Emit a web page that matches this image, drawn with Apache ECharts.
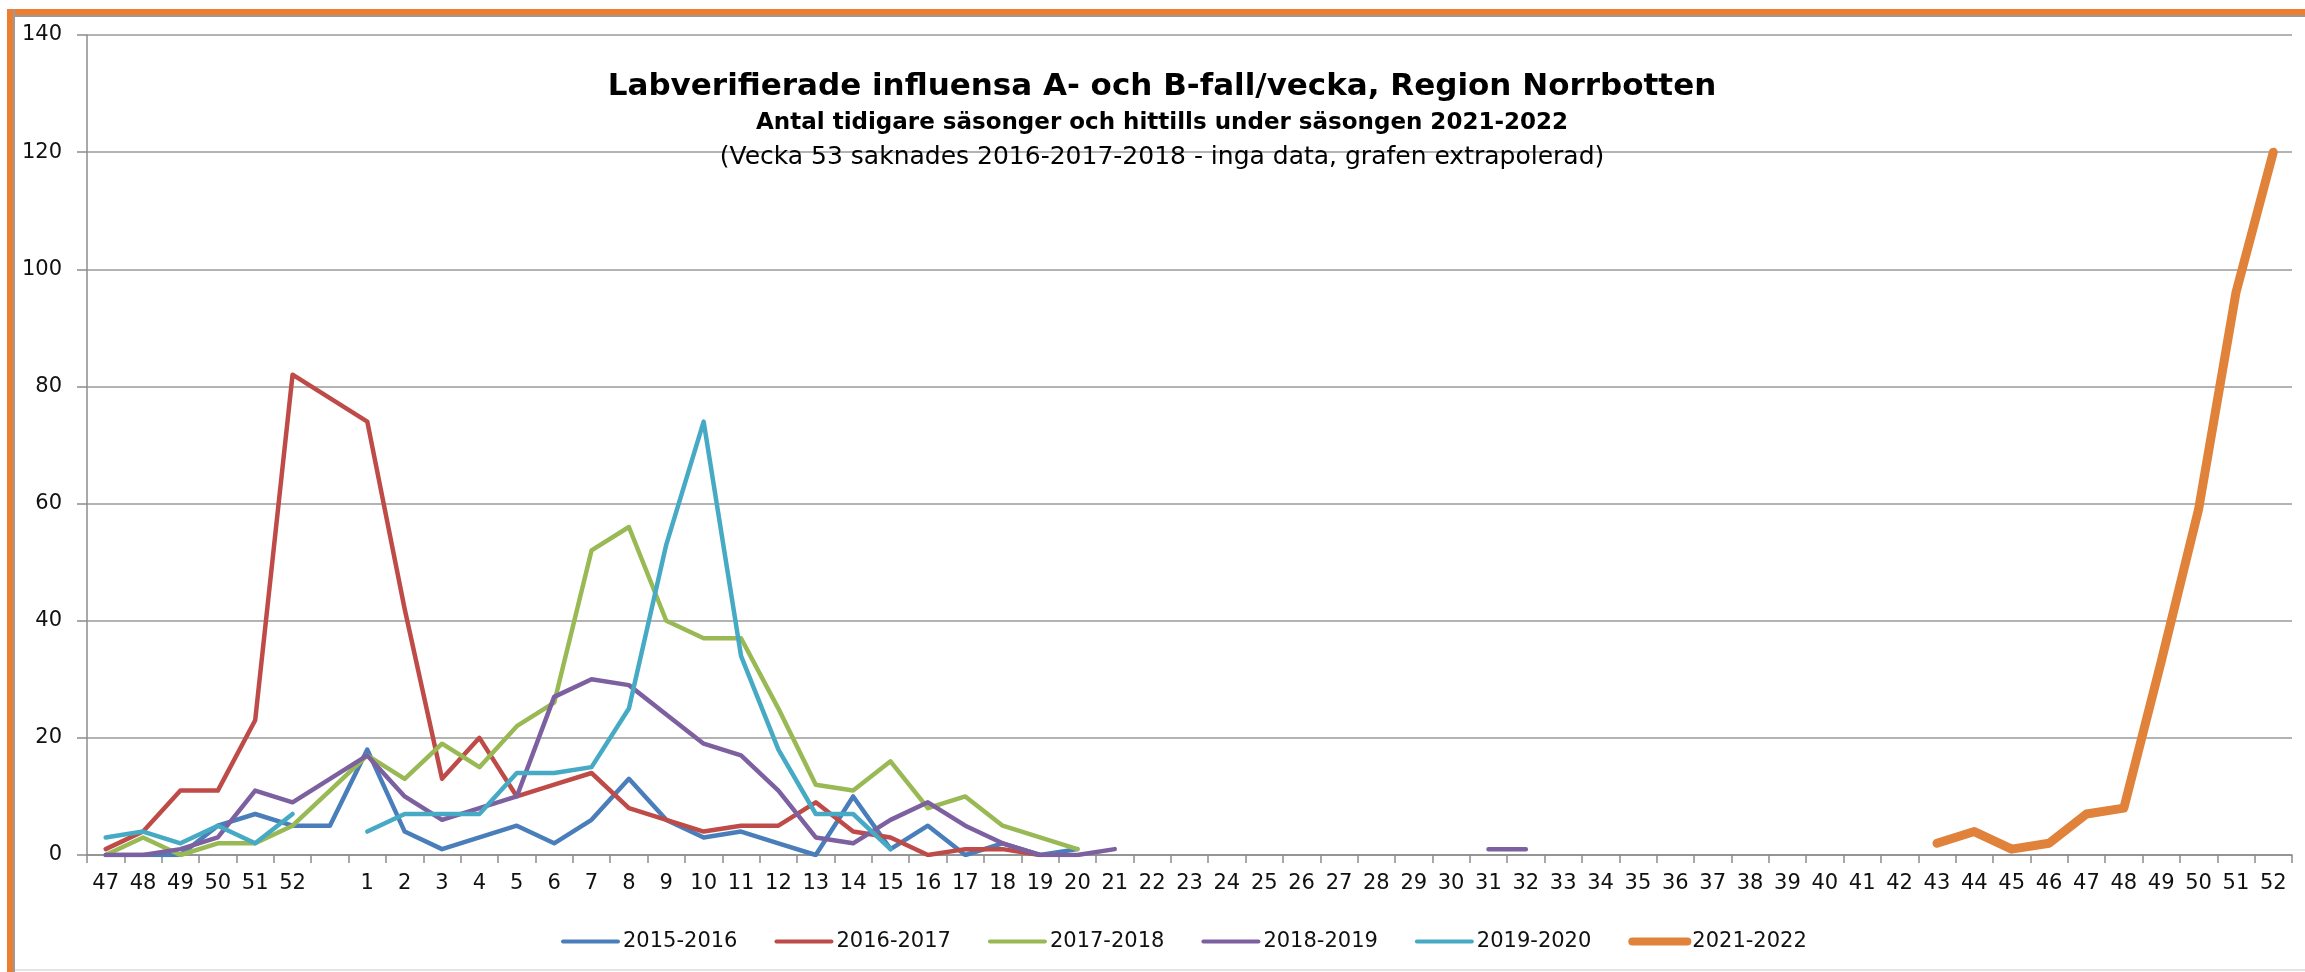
<!DOCTYPE html>
<html>
<head>
<meta charset="utf-8">
<script src="https://cdn.jsdelivr.net/npm/echarts@6/dist/echarts.min.js"></script>
<style>
html,body{margin:0;padding:0;background:#fff;}
#frame{position:absolute;left:0;top:0;width:2305px;height:972px;background:#fff;}
#frame .edge_top{position:absolute;left:7px;top:9px;right:0;height:6px;background:#ED7D31;border-bottom:2px solid #9a9a9a;}
#frame .edge_left{position:absolute;left:7px;top:9px;width:6px;bottom:0;background:#ED7D31;border-right:2px solid #9a9a9a;}
#frame .edge_bottom{position:absolute;left:15px;right:0;bottom:1px;height:2px;background:#e4e4e4;}
#chart{position:absolute;left:0;top:0;width:2305px;height:972px;}
</style>
</head>
<body>
<div id="frame">
	<div class="edge_top"></div>
	<div class="edge_left"></div>
	<div class="edge_bottom"></div>
	<div id="chart"></div>
</div>
<script>
// veckor: 47-52, vecka 53 (tom etikett), sedan 1-52
var weeks=['47','48','49','50','51','52',''];
for(var w=1;w<=52;w++){weeks.push(String(w));}

var seasonNames=['2015-2016','2016-2017','2017-2018','2018-2019','2019-2020','2021-2022'];

// värden från vecka 47 och framåt, null = inga data
var s2015=[0,0,0,5,7,5,5, 18,4,1,3,5,2,6,13,6,3,4,2,0,10,1,5,0,2,0,1];
var s2016=[1,4,11,11,23,82,78, 74,42,13,20,10,12,14,8,6,4,5,5,9,4,3,0,1,1,0];
var s2017=[0,3,0,2,2,5,11, 17,13,19,15,22,26,52,56,40,37,37,25,12,11,16,8,10,5,3,1];
var s2018=[0,0,1,3,11,9,13, 17,10,6,8,10,27,30,29,24,19,17,11,3,2,6,9,5,2,0,0,1,
	null,null,null,null,null,null,null,null,null,1,1];
var s2019=[3,4,2,5,2,7,null, 4,7,7,7,14,14,15,25,53,74,34,18,7,7,1];
// 2021-2022 vecka 43-52
var s2021Weeks=['43','44','45','46','47','48','49','50','51','52'];
var s2021Values=[2,4,1,2,7,8,33,59,96,120];

var yTicks=[0,20,40,60,80,100,120,140];

var colors=['#4A7EBB','#BE4B48','#98B954','#7D60A0','#46AAC5','#E0823A'];

function padSeries(arr){
	var out=[];
	for(var i=0;i<weeks.length;i++){
		out.push(i<arr.length?arr[i]:null);
	}
	return out;
}
function lateSeries(){
	var out=[];
	for(var i=0;i<weeks.length;i++){out.push(null);}
	// placeras på de sista veckorna (43-52) i slutet av axeln
	var start=weeks.length-s2021Weeks.length;
	for(var j=0;j<s2021Values.length;j++){out[start+j]=s2021Values[j];}
	return out;
}

var seriesData=[padSeries(s2015),padSeries(s2016),padSeries(s2017),padSeries(s2018),padSeries(s2019),lateSeries()];

var font='DejaVu Sans';
var series=[];
var legendData=[];
for(var k=0;k<seasonNames.length;k++){
	var lw=(k==5)?9:4.5;
	series.push({
		name:seasonNames[k],
		type:'line',
		data:seriesData[k],
		symbol:'none',
		connectNulls:false,
		z:(k==5)?5:2,
		lineStyle:{color:colors[k],width:lw,join:'round',cap:'round'},
		itemStyle:{color:colors[k]}
	});
	legendData.push({name:seasonNames[k],lineStyle:{width:(k==5)?8:4,color:colors[k],cap:'round'}});
}

var chart=echarts.init(document.getElementById('chart'),null,{renderer:'canvas'});
var option={
	animation:false,
	backgroundColor:'transparent',
	color:colors,
	title:[
		{text:'Labverifierade influensa A- och B-fall/vecka, Region Norrbotten',left:1162,top:71,padding:0,textAlign:'center',
			textStyle:{fontFamily:font,fontWeight:'bold',fontSize:31,color:'#000'}},
		{text:'Antal tidigare säsonger och hittills under säsongen 2021-2022',left:1162,top:112,padding:0,textAlign:'center',
			textStyle:{fontFamily:font,fontWeight:'bold',fontSize:23,color:'#000'}},
		{text:'(Vecka 53 saknades 2016-2017-2018 - inga data, grafen extrapolerad)',left:1162,top:145,padding:0,textAlign:'center',
			textStyle:{fontFamily:font,fontWeight:'normal',fontSize:25,color:'#000'}}
	],
	legend:{
		data:legendData,
		left:556,
		top:926,
		itemWidth:55,
		itemHeight:10,
		itemGap:37,
		itemStyle:{opacity:0},
		textStyle:{fontFamily:font,fontSize:21,color:'#111',padding:[0,0,0,0]}
	},
	grid:{left:87,right:13,top:35,bottom:117,containLabel:false,outerBoundsMode:'none'},
	xAxis:{
		type:'category',
		data:weeks,
		boundaryGap:true,
		axisLine:{show:true,lineStyle:{color:'#8c8c8c',width:1.5}},
		axisTick:{show:true,alignWithLabel:false,interval:0,length:8,lineStyle:{color:'#8c8c8c',width:1.5}},
		axisLabel:{interval:0,margin:18,color:'#111',fontFamily:font,fontSize:21,hideOverlap:false},
		splitLine:{show:false}
	},
	yAxis:{
		type:'value',
		min:yTicks[0],
		max:yTicks[yTicks.length-1],
		interval:20,
		axisLine:{show:true,lineStyle:{color:'#8c8c8c',width:1.5}},
		axisTick:{show:true,inside:false,length:10,lineStyle:{color:'#8c8c8c',width:1.5}},
		axisLabel:{margin:25,color:'#111',fontFamily:font,fontSize:21},
		splitLine:{show:true,lineStyle:{color:'#9a9a9a',width:1.5}}
	},
	series:series
};
chart.setOption(option);
</script>
</body>
</html>
